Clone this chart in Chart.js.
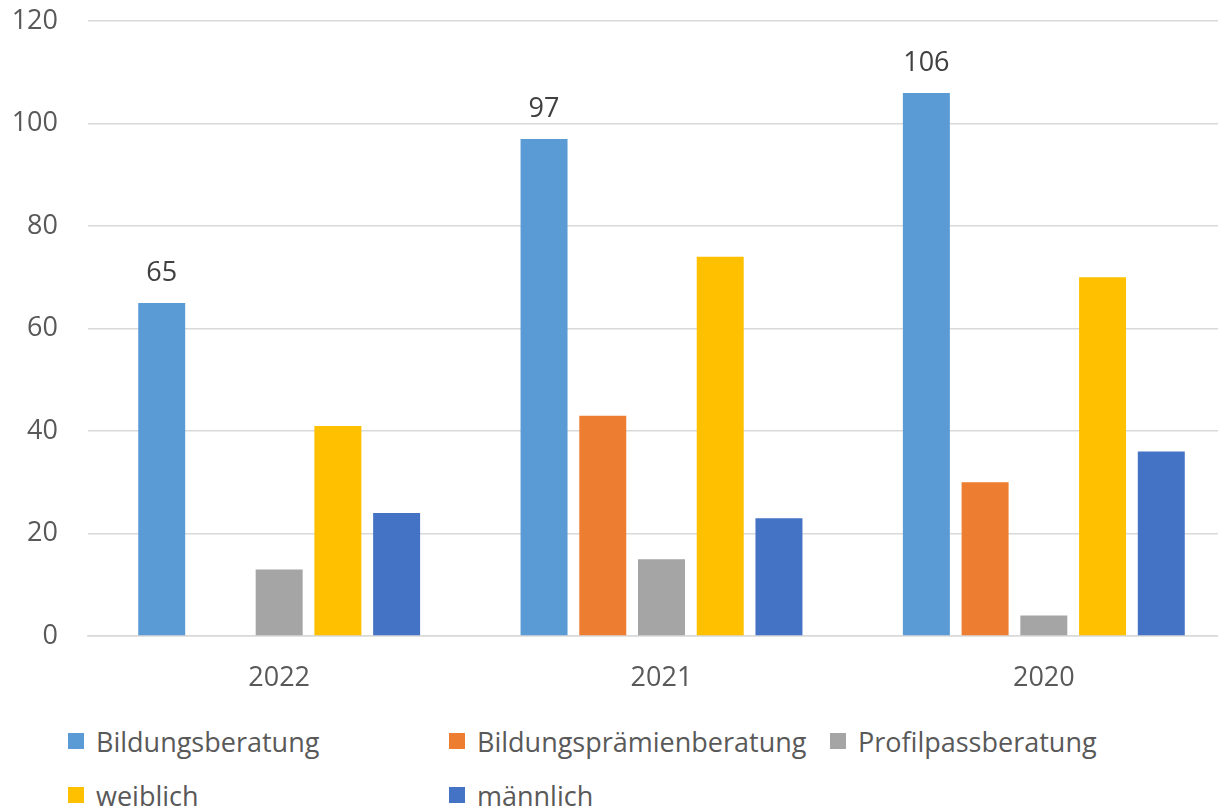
<!DOCTYPE html>
<html>
<head>
<meta charset="utf-8">
<script src="https://cdn.jsdelivr.net/npm/chart.js@4.4.1/dist/chart.umd.min.js"></script>
<style>
  html, body { margin: 0; padding: 0; background: #fff; overflow: hidden; }
  #wrap { position: relative; width: 1218px; height: 807px; overflow: hidden; }
  #box { position: absolute; left: 0; top: -25px; width: 1240px; height: 725px; }
  #legend {
    position: absolute; left: 68px; top: 720px;
    display: grid; grid-template-columns: 381px 381px 381px;
    row-gap: 12px;
    font-family: "Open Sans", sans-serif; font-size: 27px; color: #595959;
  }
  .item { display: flex; align-items: center; height: 42px; white-space: nowrap; }
  .sw { width: 16px; height: 16px; margin-right: 12px; flex: none; }
</style>
</head>
<body>
<div id="wrap">
  <div id="box"><canvas id="chart"></canvas></div>
  <div id="legend"></div>
</div>
<script>
// categories and series
const years = ['2022', '2021', '2020'];
const bildungsberatung = [65, 97, 106];
const praemienberatung = [null, 43, 30];
const profilpass = [13, 15, 4];
const weiblich = [41, 74, 70];
const maennlich = [24, 23, 36];
const yTicks = [0, 20, 40, 60, 80, 100, 120];

const seriesNames = ['Bildungsberatung', 'Bildungsprämienberatung', 'Profilpassberatung', 'weiblich', 'männlich'];
const seriesColors = ['#5B9BD5', '#ED7D31', '#A5A5A5', '#FFC000', '#4472C4'];
const seriesData = [bildungsberatung, praemienberatung, profilpass, weiblich, maennlich];

const FONT = '"Open Sans", sans-serif';

// value labels only on first series
const valueLabels = {
    id: 'valueLabels',
    afterDatasetsDraw(chart) {
        const c = chart.ctx;
        const meta = chart.getDatasetMeta(0);
        c.save();
        c.font = '27px ' + FONT;
        c.fillStyle = '#404040';
        c.textAlign = 'center';
        c.textBaseline = 'middle';
        meta.data.forEach((bar, i) => {
            const v = chart.data.datasets[0].data[i];
            if (v == null) return;
            c.fillText(String(v), bar.x, bar.y - 30);
        });
        c.restore();
    }
};

new Chart(document.getElementById('chart'), {
    type: 'bar',
    data: {
        labels: years,
        datasets: seriesNames.map((n, i) => ({
            label: n,
            data: seriesData[i],
            backgroundColor: seriesColors[i],
            categoryPercentage: 0.768,
            barPercentage: 0.8
        }))
    },
    options: {
        responsive: true,
        maintainAspectRatio: false,
        animation: false,
        layout: { padding: { top: 20, right: 5, left: 0, bottom: 0 } },
        plugins: { legend: { display: false }, tooltip: { enabled: false } },
        scales: {
            x: {
                grid: { display: false, drawTicks: false },
                border: { color: '#D9D9D9', width: 1.5 },
                ticks: { color: '#595959', font: { family: FONT, size: 27 }, padding: 26 },
                afterFit(s) { s.height = 64; }
            },
            y: {
                min: 0, max: 120,
                afterBuildTicks(s) { s.ticks = yTicks.map(v => ({ value: v })); },
                grid: { color: '#D9D9D9', lineWidth: 1.5, drawTicks: false },
                border: { display: false },
                ticks: { color: '#595959', font: { family: FONT, size: 27 }, padding: 30 },
                afterFit(s) { s.width = 88; }
            }
        }
    },
    plugins: [valueLabels]
});

// legend in Excel-like columns
const lg = document.getElementById('legend');
seriesNames.forEach((n, i) => {
    const it = document.createElement('div');
    it.className = 'item';
    it.innerHTML = '<span class="sw" style="background:' + seriesColors[i] + '"></span>' + n;
    lg.appendChild(it);
});
</script>
</body>
</html>
